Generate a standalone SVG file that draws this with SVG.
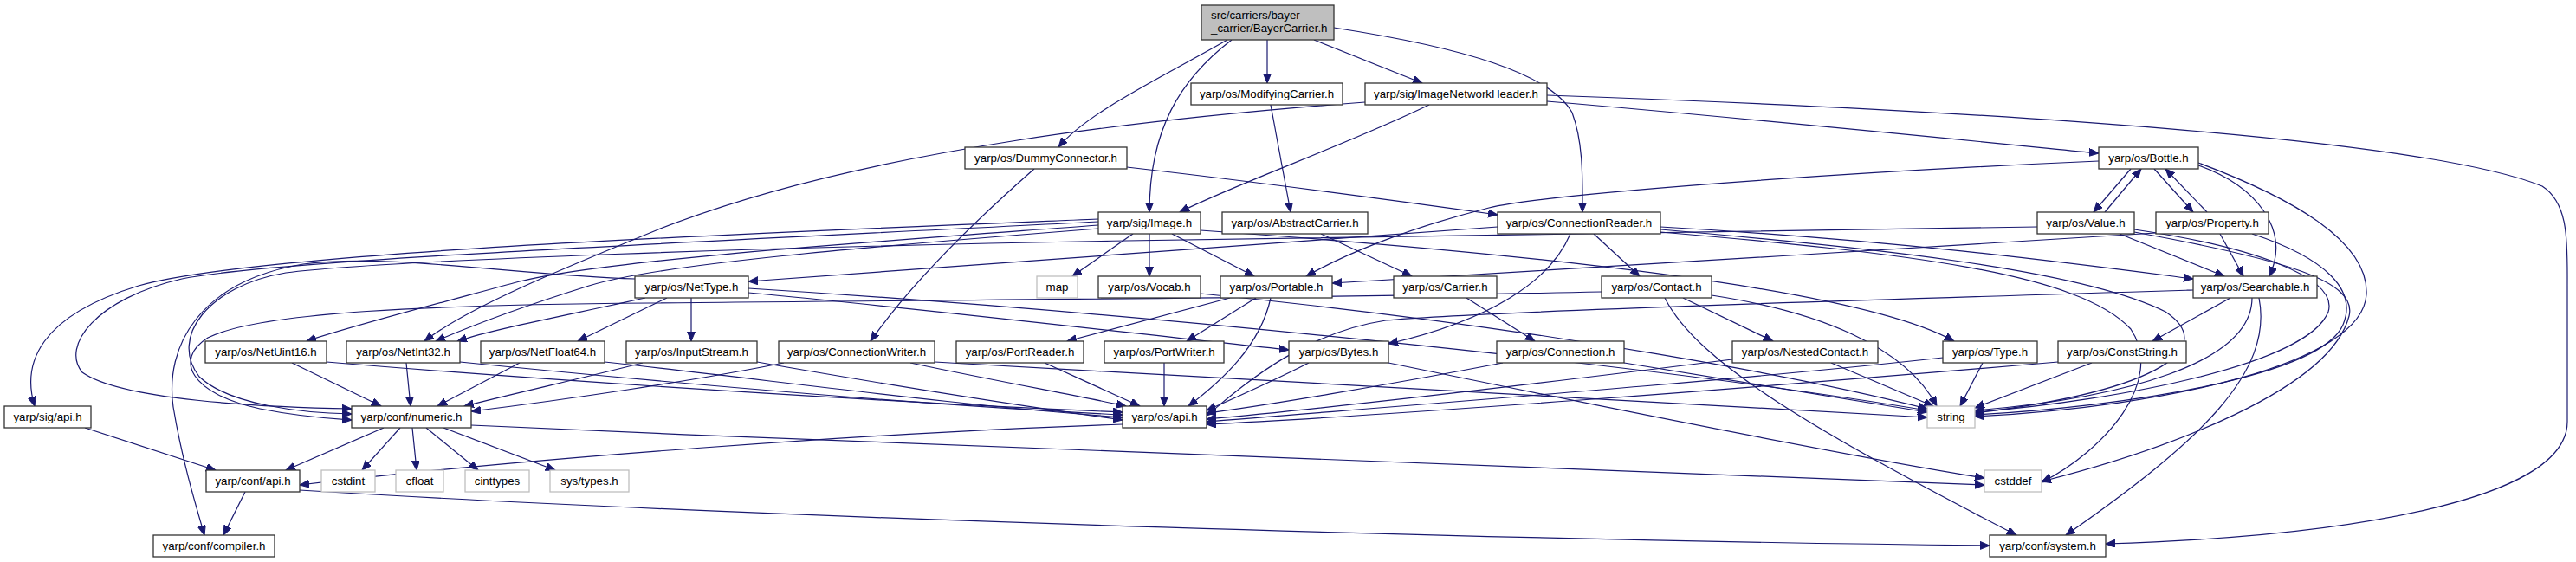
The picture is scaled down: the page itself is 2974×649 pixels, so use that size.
<svg xmlns="http://www.w3.org/2000/svg" width="2974" height="649" viewBox="0 0 2974 649">
<style>
.e path{fill:none;stroke:#191970;stroke-width:1.2}
.n rect{fill:#fff;stroke:#333;stroke-width:1.3}
.g rect{fill:#fff;stroke:#bfbfbf;stroke-width:1.3}
text{font-family:"Liberation Sans",Arial,sans-serif;font-size:13.3px;fill:#000}
.c{text-anchor:middle}
</style>
<defs>
<marker id="a" markerWidth="12" markerHeight="10" refX="11" refY="4.5" orient="auto" markerUnits="userSpaceOnUse"><path d="M0,0 L11,4.5 L0,9 z" fill="#191970" stroke="#191970" stroke-width="1"/></marker>
</defs>
<rect width="2974" height="649" fill="#fff"/>
<g class="e" marker-end="url(#a)">
<path marker-end="url(#a)" d="M1463,46 L1463,96"/>
<path marker-end="url(#a)" d="M1517,46 L1642,96"/>
<path marker-end="url(#a)" d="M1417,46 C1340,90 1255,130 1222,170"/>
<path marker-end="url(#a)" d="M1422,46 C1362,92 1327,150 1327,245"/>
<path marker-end="url(#a)" d="M1540,32 C1690,55 1790,85 1815,130 C1828,165 1827,205 1827,245"/>
<path marker-end="url(#a)" d="M1467,121 L1490,245"/>
<path marker-end="url(#a)" d="M1650,121 C1560,165 1420,215 1362,245"/>
<path marker-end="url(#a)" d="M1576,118 C1350,135 1000,170 760,265 C650,310 540,355 490,394"/>
<path marker-end="url(#a)" d="M1786,117 C2000,135 2250,160 2423,177"/>
<path marker-end="url(#a)" d="M1786,110 C2300,128 2800,160 2935,215 C2966,235 2964,280 2964,330 L2964,487 C2964,580 2700,620 2431,628"/>
<path marker-end="url(#a)" d="M1301,193 C1450,210 1600,230 1729,248"/>
<path marker-end="url(#a)" d="M1194,195 C1120,260 1050,330 1005,394"/>
<path marker-end="url(#a)" d="M1308,270 L1238,319"/>
<path marker-end="url(#a)" d="M1327,270 L1327,319"/>
<path marker-end="url(#a)" d="M1353,270 L1448,319"/>
<path marker-end="url(#a)" d="M1268,253 C900,268 300,290 160,330 C45,365 25,420 40,469"/>
<path marker-end="url(#a)" d="M1268,256 C800,280 320,300 210,322 C110,345 70,400 95,430 C140,462 300,470 406,472"/>
<path marker-end="url(#a)" d="M1268,260 C1000,280 700,300 600,325 C500,352 400,378 354,394"/>
<path marker-end="url(#a)" d="M1268,264 C1000,285 760,305 680,330 C600,355 540,378 503,394"/>
<path marker-end="url(#a)" d="M1386,266 C1800,295 2150,335 2256,394"/>
<path marker-end="url(#a)" d="M1525,270 L1630,319"/>
<path marker-end="url(#a)" d="M1729,262 C1400,285 1100,310 864,325"/>
<path marker-end="url(#a)" d="M1840,270 L1893,319"/>
<path marker-end="url(#a)" d="M1813,270 C1790,325 1720,370 1603,397"/>
<path marker-end="url(#a)" d="M1917,262 C2200,278 2400,305 2532,322"/>
<path marker-end="url(#a)" d="M1917,265 C2150,285 2400,310 2500,360 C2560,400 2500,450 2280,477"/>
<path marker-end="url(#a)" d="M1917,268 C2200,292 2400,315 2460,380 C2500,440 2430,520 2357,557"/>
<path marker-end="url(#a)" d="M2460,195 L2417,245"/>
<path marker-end="url(#a)" d="M2430,245 L2472,195"/>
<path marker-end="url(#a)" d="M2487,195 L2532,245"/>
<path marker-end="url(#a)" d="M2548,245 L2500,195"/>
<path marker-end="url(#a)" d="M2538,191 C2605,215 2645,265 2620,319"/>
<path marker-end="url(#a)" d="M2423,186 C2100,200 1780,225 1719,240 C1620,265 1550,295 1508,319"/>
<path marker-end="url(#a)" d="M2538,188 C2650,230 2735,280 2732,340 C2728,420 2500,470 2280,481"/>
<path marker-end="url(#a)" d="M2447,270 L2568,319"/>
<path marker-end="url(#a)" d="M2352,262 C1800,268 1500,275 1300,278 C900,285 450,300 330,315 C240,330 195,390 230,435 C265,468 350,477 406,478"/>
<path marker-end="url(#a)" d="M2464,265 C2600,285 2700,320 2688,360 C2665,420 2450,462 2280,476"/>
<path marker-end="url(#a)" d="M2464,268 C2640,300 2722,325 2712,365 C2690,450 2500,520 2357,556"/>
<path marker-end="url(#a)" d="M2563,270 L2590,319"/>
<path marker-end="url(#a)" d="M2489,269 C2200,288 1800,310 1538,327"/>
<path marker-end="url(#a)" d="M2600,270 C2685,298 2722,335 2705,375 C2680,435 2450,470 2280,479"/>
<path marker-end="url(#a)" d="M745,344 C650,365 570,380 528,394"/>
<path marker-end="url(#a)" d="M770,344 L667,394"/>
<path marker-end="url(#a)" d="M798,344 L798,394"/>
<path marker-end="url(#a)" d="M864,338 C1100,360 1350,390 1488,404"/>
<path marker-end="url(#a)" d="M864,333 C1300,360 1900,420 2225,474"/>
<path marker-end="url(#a)" d="M733,322 C600,318 450,292 350,305 C230,325 190,400 200,470 C210,530 225,580 236,618"/>
<path marker-end="url(#a)" d="M337,419 L440,469"/>
<path marker-end="url(#a)" d="M377,418 C700,445 1100,468 1296,476"/>
<path marker-end="url(#a)" d="M469,419 L474,469"/>
<path marker-end="url(#a)" d="M531,418 C800,445 1100,470 1296,479"/>
<path marker-end="url(#a)" d="M600,419 L505,469"/>
<path marker-end="url(#a)" d="M698,418 C900,440 1100,468 1296,482"/>
<path marker-end="url(#a)" d="M742,419 C680,435 590,455 536,469"/>
<path marker-end="url(#a)" d="M874,418 C1000,440 1150,465 1296,485"/>
<path marker-end="url(#a)" d="M905,419 C800,440 650,462 544,475"/>
<path marker-end="url(#a)" d="M1051,419 C1150,440 1250,458 1300,469"/>
<path marker-end="url(#a)" d="M1079,418 C1500,440 1900,465 2225,482"/>
<path marker-end="url(#a)" d="M1206,419 L1316,469"/>
<path marker-end="url(#a)" d="M1344,419 L1344,469"/>
<path marker-end="url(#a)" d="M1467,344 C1455,400 1410,440 1372,469"/>
<path marker-end="url(#a)" d="M1420,344 L1232,394"/>
<path marker-end="url(#a)" d="M1450,344 L1370,394"/>
<path marker-end="url(#a)" d="M1511,419 C1470,440 1420,462 1393,474"/>
<path marker-end="url(#a)" d="M1603,419 C1900,480 2150,530 2291,552"/>
<path marker-end="url(#a)" d="M1735,419 C1600,445 1450,470 1393,477"/>
<path marker-end="url(#a)" d="M1875,419 L2225,476"/>
<path marker-end="url(#a)" d="M1693,344 L1772,394"/>
<path marker-end="url(#a)" d="M1943,344 L2047,394"/>
<path marker-end="url(#a)" d="M1849,337 C1500,345 1000,347 750,350 C500,352 300,360 240,390 C200,415 220,455 300,472 C350,482 390,484 406,485"/>
<path marker-end="url(#a)" d="M1976,341 C2100,360 2200,400 2236,469"/>
<path marker-end="url(#a)" d="M1922,344 C1960,420 2100,500 2328,618"/>
<path marker-end="url(#a)" d="M2000,415 C1800,440 1550,470 1393,484"/>
<path marker-end="url(#a)" d="M2114,419 L2232,469"/>
<path marker-end="url(#a)" d="M2243,413 C2000,440 1600,470 1393,487"/>
<path marker-end="url(#a)" d="M2289,419 L2263,469"/>
<path marker-end="url(#a)" d="M2376,418 C2000,450 1600,480 1393,490"/>
<path marker-end="url(#a)" d="M2415,419 L2280,471"/>
<path marker-end="url(#a)" d="M2575,344 L2485,394"/>
<path marker-end="url(#a)" d="M2600,344 C2600,420 2450,460 2280,474"/>
<path marker-end="url(#a)" d="M2608,344 C2625,430 2540,510 2385,618"/>
<path marker-end="url(#a)" d="M2532,335 C2200,345 1700,360 1600,370 C1500,385 1430,450 1393,480"/>
<path marker-end="url(#a)" d="M1386,339 C1800,380 2100,440 2225,472"/>
<path marker-end="url(#a)" d="M443,494 L330,543"/>
<path marker-end="url(#a)" d="M462,494 L418,543"/>
<path marker-end="url(#a)" d="M476,494 L481,543"/>
<path marker-end="url(#a)" d="M492,494 L552,543"/>
<path marker-end="url(#a)" d="M512,494 L641,543"/>
<path marker-end="url(#a)" d="M544,491 C1200,520 1900,550 2291,560"/>
<path marker-end="url(#a)" d="M98,494 L249,543"/>
<path marker-end="url(#a)" d="M1296,490 C1000,500 600,530 346,560"/>
<path marker-end="url(#a)" d="M283,568 L258,618"/>
<path marker-end="url(#a)" d="M346,566 C900,600 1800,625 2297,630"/>
</g>
<g id="n0" class="n"><rect x="1387" y="6" width="153" height="40" style="fill:#bfbfbf"/><text x="1398" y="21.5">src/carriers/bayer</text><text x="1398" y="36.5">_carrier/BayerCarrier.h</text></g>
<g id="n1" class="n"><rect x="1375" y="96" width="175" height="25"/><text class="c" x="1462.5" y="113">yarp/os/ModifyingCarrier.h</text></g>
<g id="n2" class="n"><rect x="1576" y="96" width="210" height="25"/><text class="c" x="1681" y="113">yarp/sig/ImageNetworkHeader.h</text></g>
<g id="n3" class="n"><rect x="1114" y="170" width="187" height="25"/><text class="c" x="1207.5" y="187">yarp/os/DummyConnector.h</text></g>
<g id="n4" class="n"><rect x="2423" y="170" width="115" height="25"/><text class="c" x="2480.5" y="187">yarp/os/Bottle.h</text></g>
<g id="n5" class="n"><rect x="1268" y="245" width="118" height="25"/><text class="c" x="1327" y="262">yarp/sig/Image.h</text></g>
<g id="n6" class="n"><rect x="1411" y="245" width="168" height="25"/><text class="c" x="1495" y="262">yarp/os/AbstractCarrier.h</text></g>
<g id="n7" class="n"><rect x="1729" y="245" width="188" height="25"/><text class="c" x="1823" y="262">yarp/os/ConnectionReader.h</text></g>
<g id="n8" class="n"><rect x="2352" y="245" width="112" height="25"/><text class="c" x="2408" y="262">yarp/os/Value.h</text></g>
<g id="n9" class="n"><rect x="2489" y="245" width="130" height="25"/><text class="c" x="2554" y="262">yarp/os/Property.h</text></g>
<g id="n10" class="n"><rect x="733" y="319" width="131" height="25"/><text class="c" x="798.5" y="336">yarp/os/NetType.h</text></g>
<g id="n11" class="g"><rect x="1197" y="319" width="47" height="25"/><text class="c" x="1220.5" y="336">map</text></g>
<g id="n12" class="n"><rect x="1268" y="319" width="118" height="25"/><text class="c" x="1327" y="336">yarp/os/Vocab.h</text></g>
<g id="n13" class="n"><rect x="1409" y="319" width="129" height="25"/><text class="c" x="1473.5" y="336">yarp/os/Portable.h</text></g>
<g id="n14" class="n"><rect x="1609" y="319" width="119" height="25"/><text class="c" x="1668.5" y="336">yarp/os/Carrier.h</text></g>
<g id="n15" class="n"><rect x="1849" y="319" width="127" height="25"/><text class="c" x="1912.5" y="336">yarp/os/Contact.h</text></g>
<g id="n16" class="n"><rect x="2532" y="319" width="143" height="25"/><text class="c" x="2603.5" y="336">yarp/os/Searchable.h</text></g>
<g id="n17" class="n"><rect x="237" y="394" width="140" height="25"/><text class="c" x="307" y="411">yarp/os/NetUint16.h</text></g>
<g id="n18" class="n"><rect x="400" y="394" width="131" height="25"/><text class="c" x="465.5" y="411">yarp/os/NetInt32.h</text></g>
<g id="n19" class="n"><rect x="555" y="394" width="143" height="25"/><text class="c" x="626.5" y="411">yarp/os/NetFloat64.h</text></g>
<g id="n20" class="n"><rect x="723" y="394" width="151" height="25"/><text class="c" x="798.5" y="411">yarp/os/InputStream.h</text></g>
<g id="n21" class="n"><rect x="899" y="394" width="180" height="25"/><text class="c" x="989" y="411">yarp/os/ConnectionWriter.h</text></g>
<g id="n22" class="n"><rect x="1104" y="394" width="147" height="25"/><text class="c" x="1177.5" y="411">yarp/os/PortReader.h</text></g>
<g id="n23" class="n"><rect x="1275" y="394" width="138" height="25"/><text class="c" x="1344" y="411">yarp/os/PortWriter.h</text></g>
<g id="n24" class="n"><rect x="1488" y="394" width="115" height="25"/><text class="c" x="1545.5" y="411">yarp/os/Bytes.h</text></g>
<g id="n25" class="n"><rect x="1728" y="394" width="147" height="25"/><text class="c" x="1801.5" y="411">yarp/os/Connection.h</text></g>
<g id="n26" class="n"><rect x="2000" y="394" width="168" height="25"/><text class="c" x="2084" y="411">yarp/os/NestedContact.h</text></g>
<g id="n27" class="n"><rect x="2243" y="394" width="109" height="25"/><text class="c" x="2297.5" y="411">yarp/os/Type.h</text></g>
<g id="n28" class="n"><rect x="2376" y="394" width="148" height="25"/><text class="c" x="2450" y="411">yarp/os/ConstString.h</text></g>
<g id="n29" class="n"><rect x="5" y="469" width="100" height="25"/><text class="c" x="55" y="486">yarp/sig/api.h</text></g>
<g id="n30" class="n"><rect x="406" y="469" width="138" height="25"/><text class="c" x="475" y="486">yarp/conf/numeric.h</text></g>
<g id="n31" class="n"><rect x="1296" y="469" width="97" height="25"/><text class="c" x="1344.5" y="486">yarp/os/api.h</text></g>
<g id="n32" class="g"><rect x="2225" y="469" width="55" height="25"/><text class="c" x="2252.5" y="486">string</text></g>
<g id="n33" class="n"><rect x="238" y="543" width="108" height="25"/><text class="c" x="292" y="560">yarp/conf/api.h</text></g>
<g id="n34" class="g"><rect x="371" y="543" width="62" height="25"/><text class="c" x="402" y="560">cstdint</text></g>
<g id="n35" class="g"><rect x="457" y="543" width="55" height="25"/><text class="c" x="484.5" y="560">cfloat</text></g>
<g id="n36" class="g"><rect x="537" y="543" width="74" height="25"/><text class="c" x="574" y="560">cinttypes</text></g>
<g id="n37" class="g"><rect x="635" y="543" width="91" height="25"/><text class="c" x="680.5" y="560">sys/types.h</text></g>
<g id="n38" class="g"><rect x="2291" y="543" width="66" height="25"/><text class="c" x="2324" y="560">cstddef</text></g>
<g id="n39" class="n"><rect x="177" y="618" width="140" height="25"/><text class="c" x="247" y="635">yarp/conf/compiler.h</text></g>
<g id="n40" class="n"><rect x="2297" y="618" width="134" height="25"/><text class="c" x="2364" y="635">yarp/conf/system.h</text></g>
</svg>
